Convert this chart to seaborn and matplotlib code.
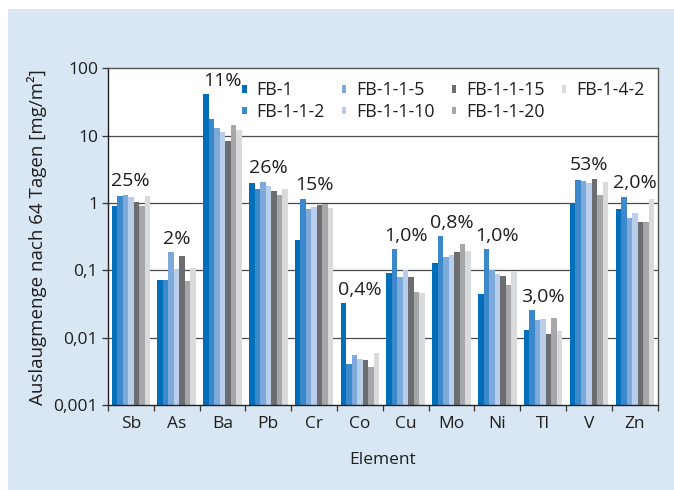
import numpy as np
import pandas as pd
import matplotlib
matplotlib.use("Agg")
import matplotlib.pyplot as plt
from matplotlib.patches import Rectangle
from matplotlib.ticker import FixedLocator, NullLocator
import seaborn as sns

# Elements along the x axis
elements = ["Sb", "As", "Ba", "Pb", "Cr", "Co", "Cu", "Mo", "Ni", "Tl", "V", "Zn"]

# Leached amount after 64 days [mg/m²] per sample
fb_1       = [0.91, 0.072, 40.9, 2.01, 0.285, 0.0329, 0.092, 0.129, 0.045, 0.0130, 0.99, 0.80]
fb_1_1_2   = [1.29, 0.072, 17.4, 1.63, 1.16, 0.0041, 0.209, 0.327, 0.209, 0.0259, 2.22, 1.24]
fb_1_1_5   = [1.33, 0.189, 12.8, 2.08, 0.80, 0.0055, 0.080, 0.159, 0.101, 0.0184, 2.15, 0.605]
fb_1_1_10  = [1.24, 0.105, 11.1, 1.81, 0.88, 0.0048, 0.101, 0.170, 0.089, 0.0190, 2.01, 0.718]
fb_1_1_15  = [1.05, 0.164, 8.3, 1.53, 0.94, 0.0047, 0.080, 0.189, 0.083, 0.0114, 2.30, 0.527]
fb_1_1_20  = [0.91, 0.070, 14.2, 1.33, 0.98, 0.0037, 0.048, 0.248, 0.061, 0.0197, 1.33, 0.527]
fb_1_4_2   = [1.29, 0.109, 11.9, 1.63, 0.85, 0.0059, 0.046, 0.195, 0.098, 0.0126, 2.08, 1.16]

samples = ["FB-1", "FB-1-1-2", "FB-1-1-5", "FB-1-1-10", "FB-1-1-15", "FB-1-1-20", "FB-1-4-2"]
series = [fb_1, fb_1_1_2, fb_1_1_5, fb_1_1_10, fb_1_1_15, fb_1_1_20, fb_1_4_2]

# Leached share per element
shares = ["25%", "2%", "11%", "26%", "15%", "0,4%", "1,0%", "0,8%", "1,0%", "3,0%", "53%", "2,0%"]

y_ticks = [0.001, 0.01, 0.1, 1, 10, 100]
y_tick_labels = ["0,001", "0,01", "0,1", "1", "10", "100"]

colors = ["#006EB8", "#3B89CA", "#7EA9DB", "#B9CEEA", "#6C6D70", "#A6A7A9", "#D9DADB"]

df = pd.DataFrame(
    [(el, s, v) for s, vals in zip(samples, series) for el, v in zip(elements, vals)],
    columns=["Element", "Probe", "Wert"],
)

sns.set_theme(style="white")
plt.rcParams["font.family"] = ["Open Sans", "DejaVu Sans"]

txt = "#1e1e1e"
bg = "#D9E6F3"
W, H = 674, 490
fig = plt.figure(figsize=(W / 100, H / 100), dpi=100, facecolor="white")
# light blue panel with a narrow white margin at the top and left
fig.patches.append(Rectangle((8 / W, 0), 1 - 8 / W, 1 - 9 / H, transform=fig.transFigure,
                             facecolor=bg, edgecolor="none", zorder=-10))

ax = fig.add_axes([0.160, 0.173, 0.816, 0.688])
ax.set_facecolor("white")
ax.set_yscale("log")

# horizontal grid behind the bars
for t in y_ticks[1:-1]:
    ax.axhline(t, color="#4a4a4a", lw=0.9, zorder=0)

sns.barplot(
    data=df, x="Element", y="Wert", hue="Probe", order=elements, hue_order=samples,
    palette=colors, width=0.84, saturation=1, ax=ax, errorbar=None, zorder=2,
    edgecolor="none", linewidth=0,
)

ax.set_ylim(0.001, 100)
ax.set_xlim(-0.5, len(elements) - 0.5)
ax.yaxis.set_major_locator(FixedLocator(y_ticks))
ax.yaxis.set_minor_locator(NullLocator())
ax.set_yticklabels(y_tick_labels, fontsize=12.5, color=txt)
ax.set_xticks(range(len(elements)))
ax.set_xticklabels(elements, fontsize=12.5, color=txt)
ax.tick_params(axis="x", which="major", length=0, pad=8)
ax.xaxis.set_minor_locator(FixedLocator(np.arange(-0.5, len(elements), 1.0)))
ax.tick_params(axis="x", which="minor", length=4, width=0.9, color="#333333", direction="out", bottom=True)
ax.tick_params(axis="y", which="major", length=4, width=0.9, color="#333333", direction="out", left=True, pad=3)

ax.set_xlabel("Element", fontsize=12.5, color=txt, labelpad=14)
ax.set_ylabel("Auslaugmenge nach 64 Tagen [mg/m²]", fontsize=13.5, color=txt, labelpad=5)

for side in ["left", "bottom"]:
    ax.spines[side].set_color("#222222")
    ax.spines[side].set_linewidth(1.0)
for side in ["top", "right"]:
    ax.spines[side].set_color("#555555")
    ax.spines[side].set_linewidth(1.0)

# share labels above each element group
group_max = np.max(np.array(series), axis=0)
for i, (lbl, top) in enumerate(zip(shares, group_max)):
    ax.annotate(lbl, xy=(i, top), xytext=(0, 3), textcoords="offset points",
                ha="center", va="bottom", fontsize=14, color=txt)

handles, labels = ax.get_legend_handles_labels()
ax.legend(
    handles, labels, ncol=4, loc="upper right", bbox_to_anchor=(1.0, 1.0),
    frameon=False, fontsize=12.8, handlelength=0.27, handleheight=0.27,
    handletextpad=0.55, columnspacing=0.95, labelspacing=0.2, borderaxespad=0.35,
    labelcolor=txt,
)

fig.savefig("out.png", dpi=100, facecolor="white")
